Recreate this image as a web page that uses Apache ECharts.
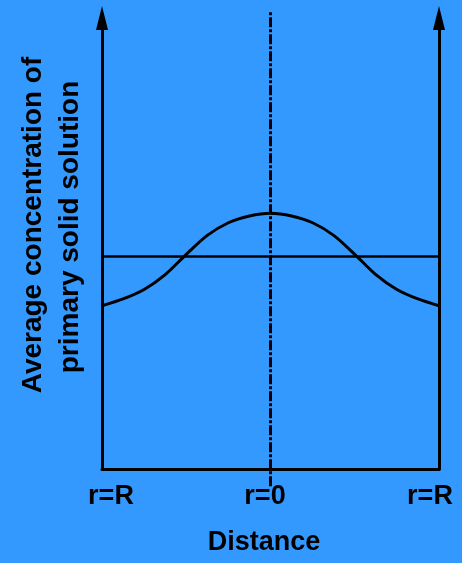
<!DOCTYPE html>
<html>
<head>
<meta charset="utf-8">
<script src="https://cdn.jsdelivr.net/npm/echarts@6/dist/echarts.min.js"></script>
<style>
  html, body { margin: 0; padding: 0; background: #3399ff; }
  #chart-box { width: 462px; height: 563px; }
</style>
</head>
<body>
<div id="chart-box"></div>
<script>
// positions along the diameter (-1 = r=R left, 0 = centre, 1 = r=R right)
const distance = [-1, -0.875, -0.75, -0.625, -0.5, -0.375, -0.25, -0.125, 0,
  0.125, 0.25, 0.375, 0.5, 0.625, 0.75, 0.875, 1];
// average concentration
const concentration = [36.2, 37.7, 39.8, 43.1, 47.6, 51.8, 54.6, 56.1, 56.7,
  56.1, 54.6, 51.8, 47.6, 43.1, 39.8, 37.7, 36.2];
// equilibrium (mean) level, horizontal line
const meanLevel = 47.1;
const meanSpan = [-1, 1.02];
// centre line r=0
const centreSpan = [-3.8, 101.6];
const tickLabels = ["r=R", "r=0", "r=R"];
const yTitle = ["Average concentration of", "primary solid solution"];
const xTitle = "Distance";

const FONT = 'Arial, "Liberation Sans", sans-serif';

const chart = echarts.init(document.getElementById("chart-box"));

const sideAxis = (pos) => ({
  type: "value",
  min: 0,
  max: 100,
  position: pos,
  axisLine: {
    show: true,
    onZero: false,
    symbol: ["none", "triangle"],
    symbolSize: [12, 24],
    lineStyle: { color: "#000", width: 3 },
  },
  axisTick: { show: false },
  axisLabel: { show: false },
  splitLine: { show: false },
});

const option = {
  backgroundColor: "#3399ff",
  animation: false,
  grid: { left: 102, right: 23, top: 18, bottom: 94 },
  xAxis: {
    type: "value",
    min: -1,
    max: 1,
    axisLine: { show: true, onZero: false, lineStyle: { color: "#000", width: 3 } },
    axisTick: { show: false },
    axisLabel: { show: false },
    splitLine: { show: false },
  },
  yAxis: [sideAxis("left"), sideAxis("right")],
  series: [
    {
      type: "line",
      data: distance.map((d, i) => [d, concentration[i]]),
      smooth: 0.3,
      showSymbol: false,
      lineStyle: { color: "#000", width: 3 },
    },
    {
      type: "line",
      data: meanSpan.map((d) => [d, meanLevel]),
      clip: false,
      showSymbol: false,
      lineStyle: { color: "#000", width: 2.5 },
    },
    {
      type: "line",
      data: centreSpan.map((v) => [0, v]),
      clip: false,
      showSymbol: false,
      lineStyle: { color: "#000", width: 3, type: [10, 2, 3, 2] },
    },
  ],
  graphic: [
    // tick labels (placed as in the figure, slightly off the axis ends)
    { type: "text", x: 111, y: 497, style: { text: tickLabels[0], font: "bold 27px " + FONT, fill: "#000", align: "center", verticalAlign: "middle" } },
    { type: "text", x: 265, y: 497, style: { text: tickLabels[1], font: "bold 27px " + FONT, fill: "#000", align: "center", verticalAlign: "middle" } },
    { type: "text", x: 430, y: 497, style: { text: tickLabels[2], font: "bold 27px " + FONT, fill: "#000", align: "center", verticalAlign: "middle" } },
    { type: "text", x: 264, y: 543, style: { text: xTitle, font: "bold 27px " + FONT, fill: "#000", align: "center", verticalAlign: "middle" } },
    { type: "text", x: 33, y: 225, rotation: Math.PI / 2, style: { text: yTitle[0], font: "bold 28px " + FONT, fill: "#000", align: "center", verticalAlign: "middle" } },
    { type: "text", x: 70, y: 227, rotation: Math.PI / 2, style: { text: yTitle[1], font: "bold 28px " + FONT, fill: "#000", align: "center", verticalAlign: "middle" } },
  ],
};
chart.setOption(option);
</script>
</body>
</html>
